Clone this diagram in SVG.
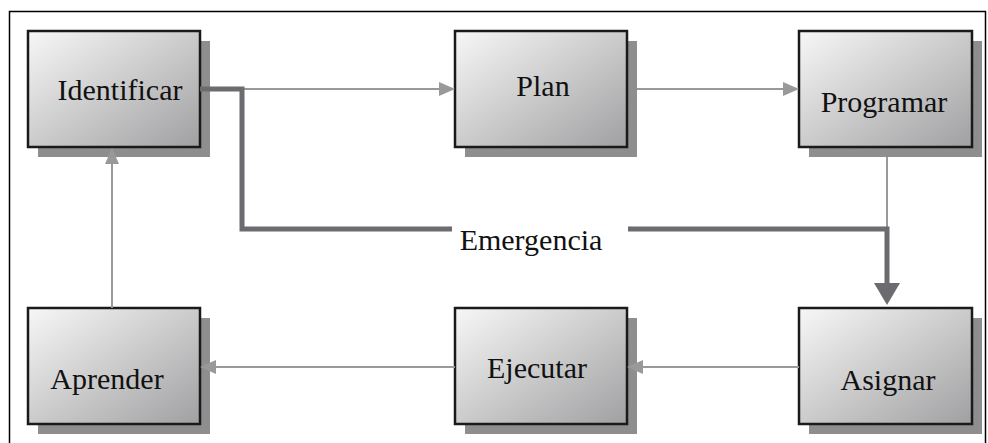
<svg xmlns="http://www.w3.org/2000/svg" width="988" height="443" viewBox="0 0 988 443">
  <defs>
    <linearGradient id="boxFill" x1="0" y1="0" x2="1" y2="1">
      <stop offset="0" stop-color="#f7f7f7"/>
      <stop offset="1" stop-color="#a0a0a2"/>
    </linearGradient>
    <marker id="thinHead" markerUnits="userSpaceOnUse" markerWidth="16" markerHeight="14" refX="0" refY="7" orient="auto" overflow="visible">
      <path d="M0,0 L16,7 L0,14 Z" fill="#999"/>
    </marker>
    <marker id="thickHead" markerUnits="userSpaceOnUse" markerWidth="22" markerHeight="26" refX="0" refY="13" orient="auto" overflow="visible">
      <path d="M0,0 L22,13 L0,26 Z" fill="#6b6b70"/>
    </marker>
  </defs>
  <style>
    .frame { fill: none; stroke: #000; stroke-width: 1.5; }
    .shadow { fill: #8e8e8e; }
    .box { fill: url(#boxFill); stroke: #1a1a1a; stroke-width: 2.5; }
    .label { font-family: 'Liberation Serif', 'DejaVu Serif', 'Times New Roman', serif; font-size: 30px; fill: #111; text-anchor: middle; }
    .thin { fill: none; stroke: #999; stroke-width: 2; }
    .thick { fill: none; stroke: #6b6b70; stroke-width: 5; stroke-linejoin: miter; }
  </style>

  <rect width="988" height="443" fill="#fff"/>
  <path class="frame" d="M9.5,443 V11.5 H985.5 V443"/>

  <!-- process steps -->
  <g id="identificar">
    <rect class="shadow" x="38" y="41" width="172" height="116"/>
    <rect class="box" x="28" y="31" width="172" height="116"/>
    <text class="label" font-family="Liberation Serif, serif" x="120" y="100">Identificar</text>
  </g>
  <g id="plan">
    <rect class="shadow" x="465" y="41" width="172" height="116"/>
    <rect class="box" x="455" y="31" width="172" height="116"/>
    <text class="label" font-family="Liberation Serif, serif" x="543" y="96">Plan</text>
  </g>
  <g id="programar">
    <rect class="shadow" x="809" y="41" width="173" height="116"/>
    <rect class="box" x="799" y="31" width="173" height="116"/>
    <text class="label" font-family="Liberation Serif, serif" x="884" y="112">Programar</text>
  </g>
  <g id="asignar">
    <rect class="shadow" x="809" y="318" width="173" height="116"/>
    <rect class="box" x="799" y="308" width="173" height="116"/>
    <text class="label" font-family="Liberation Serif, serif" x="888" y="390">Asignar</text>
  </g>
  <g id="ejecutar">
    <rect class="shadow" x="465" y="318" width="172" height="116"/>
    <rect class="box" x="455" y="308" width="172" height="116"/>
    <text class="label" font-family="Liberation Serif, serif" x="537" y="378">Ejecutar</text>
  </g>
  <g id="aprender">
    <rect class="shadow" x="38" y="318" width="172" height="116"/>
    <rect class="box" x="28" y="308" width="172" height="116"/>
    <text class="label" font-family="Liberation Serif, serif" x="107" y="389">Aprender</text>
  </g>

  <!-- connectors -->
  <g id="connectors">
    <path class="thin" d="M242,89 H439" marker-end="url(#thinHead)"/>
    <path class="thin" d="M637,89 H783" marker-end="url(#thinHead)"/>
    <path class="thin" d="M887,157 V229"/>
    <path class="thin" d="M799,367 H643" marker-end="url(#thinHead)"/>
    <path class="thin" d="M455,367 H216" marker-end="url(#thinHead)"/>
    <path class="thin" d="M112,308 V164" marker-end="url(#thinHead)"/>
    <path class="thick" d="M200,89 H242 V229 H452"/>
    <path class="thick" d="M628,229 H887 V283" marker-end="url(#thickHead)"/>
    <text class="label" font-family="Liberation Serif, serif" x="531" y="250">Emergencia</text>
  </g>
</svg>
